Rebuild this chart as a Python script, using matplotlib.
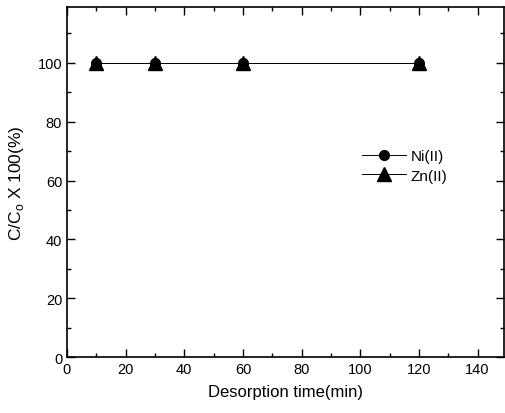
import matplotlib.pyplot as plt
from matplotlib.ticker import MultipleLocator

plt.rcParams['font.family'] = ['Liberation Sans', 'DejaVu Sans']
plt.rcParams['mathtext.fontset'] = 'custom'
plt.rcParams['mathtext.rm'] = 'Liberation Sans'

time_min = [10, 30, 60, 120]
ni_ratio = [100, 100, 100, 100]
zn_ratio = [100, 100, 100, 100]

fig = plt.figure(figsize=(5.06, 4.14), dpi=100)
ax = fig.add_axes([0.1324, 0.135, 0.8636, 0.846])

ax.plot(time_min, ni_ratio, color='black', lw=0.7, marker='o', ms=7, label='Ni(II)')
ax.plot(time_min, zn_ratio, color='black', lw=0.7, marker='^', ms=9.5, label='Zn(II)')

ax.set_xlim(0, 149)
ax.set_ylim(0, 119)
ax.xaxis.set_major_locator(MultipleLocator(20))
ax.xaxis.set_minor_locator(MultipleLocator(10))
ax.yaxis.set_major_locator(MultipleLocator(20))
ax.yaxis.set_minor_locator(MultipleLocator(10))
ax.tick_params(which='both', direction='in', top=True, right=True, labelsize=10.5, width=1)
ax.tick_params(which='major', length=6)
ax.tick_params(which='minor', length=3)
for s in ax.spines.values():
    s.set_linewidth(1.2)

ax.set_xlabel('Desorption time(min)', fontsize=12, labelpad=6)
ax.set_ylabel('C/C$_\\mathrm{o}$ X 100(%)', fontsize=12.5, labelpad=8)

ax.legend(loc='center left', bbox_to_anchor=(0.675, 0.546), frameon=False,
          fontsize=11, handlelength=2.9, handletextpad=0.3, labelspacing=0.35,
          borderpad=0, borderaxespad=0)

fig.savefig('out.png', dpi=100)
